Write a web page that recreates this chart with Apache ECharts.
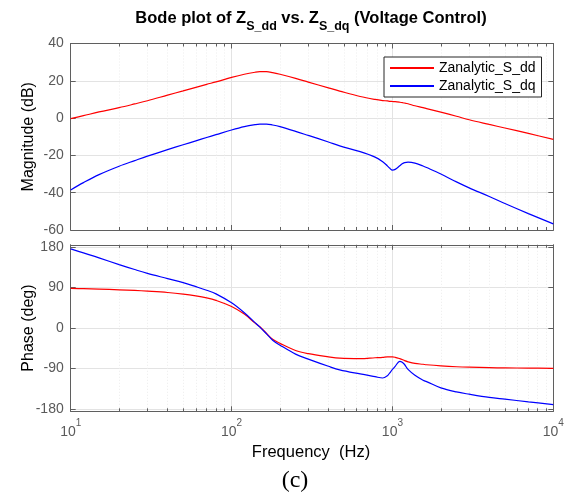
<!DOCTYPE html>
<html>
<head>
<meta charset="utf-8">
<script src="https://cdn.jsdelivr.net/npm/echarts@6/dist/echarts.min.js"></script>
<style>
html,body{margin:0;padding:0;background:#fff;}
#chart{width:570px;height:493px;}
</style>
</head>
<body>
<div id="chart"></div>
<script>
const freq = [10,12,15,20,25,30,40,50,60,70,80,100,120,140,150,165,180,200,250,300,400,470,630,780,870,930,960,1000,1040,1110,1150,1190,1250,1380,1550,1630,2000,2500,3000,4000,5000,7000,10000];
const magDd = [-0.3,1.3,3.3,5.6,7.6,9.3,12.3,14.6,16.5,18.1,19.4,21.8,23.5,24.6,24.9,24.9,24.4,23.5,21.3,19.3,16.2,14.5,11.6,10.0,9.4,9.2,9.0,8.9,8.8,8.5,8.3,8.1,7.7,6.6,5.6,5.1,3.2,1.0,-0.9,-3.4,-5.3,-8.2,-11.4];
const magDq = [-38.5,-34.6,-30.3,-25.8,-22.8,-20.4,-16.9,-14.3,-12.2,-10.4,-8.9,-6.4,-4.6,-3.5,-3.2,-3.2,-3.7,-4.6,-7.1,-9.3,-12.8,-14.9,-18.0,-20.9,-23.4,-25.6,-26.8,-27.9,-27.5,-25.6,-24.5,-23.9,-23.6,-24.1,-25.7,-26.5,-30.0,-34.2,-37.4,-42.0,-45.8,-51.2,-56.7];
const phaseDd = [88,87.4,86.5,85,83.6,82,79,75.5,71.5,67,61.5,48,31,11,3,-12,-25,-34,-50,-57,-64,-67,-68,-66,-65,-64,-64,-64,-65,-68,-70,-72.5,-75,-78.5,-80.5,-81.5,-84,-86,-87,-88,-88.5,-89,-89.5];
const phaseDq = [176,167,156,141,130,121.5,110,101,92,84,76,56,34,12,2,-13,-27,-38,-58,-69,-85,-93,-102,-108,-111,-106,-100,-92,-85,-74,-76,-81,-92,-105,-116,-119,-133,-142,-147,-154,-158,-164,-170];
const seriesNames = ['Zanalytic_S_dd','Zanalytic_S_dq'];
const phaseTicks = [-180,-90,0,90,180];

const pairs = (ys) => freq.map((f, i) => [f, ys[i]]);
const chart = echarts.init(document.getElementById('chart'), null, {renderer: 'canvas'});

const tickColor = '#5a5a5a';
const axisLineColor = '#5f5f5f';
const gridColor = '#e3e3e3';
const minorGridColor = '#ececec';
const FONT = 'Liberation Sans, Arial, sans-serif';

function xAxisDef(gridIndex, pos, showLabels) {
  return {
    type: 'log', logBase: 10, min: 10, max: 10000, gridIndex: gridIndex, position: pos,
    axisLine: {show: true, onZero: false, lineStyle: {color: axisLineColor, width: 1}},
    axisTick: {show: true, inside: true, length: 5, lineStyle: {color: axisLineColor}},
    minorTick: {show: true, splitNumber: 9, length: 3, lineStyle: {color: axisLineColor}},
    splitLine: {show: pos === 'bottom', lineStyle: {color: gridColor, width: 1}},
    minorSplitLine: {show: pos === 'bottom', lineStyle: {color: minorGridColor, type: [1, 2], width: 1}},
    axisLabel: {
      show: showLabels, margin: 7, showMinLabel: true, showMaxLabel: true, hideOverlap: false,
      formatter: function (v) { return '{b|10}{s|' + Math.round(Math.log10(v)) + '}'; },
      rich: {
        b: {fontSize: 14, fontFamily: FONT, color: tickColor, lineHeight: 28},
        s: {fontSize: 10, fontFamily: FONT, color: tickColor, lineHeight: 10, verticalAlign: 'top'}
      }
    }
  };
}
function yAxisDef(gridIndex, pos, opts) {
  const base = {
    type: 'value', gridIndex: gridIndex, position: pos,
    axisLine: {show: true, onZero: false, lineStyle: {color: axisLineColor, width: 1}},
    axisTick: {show: true, inside: true, length: 5, lineStyle: {color: axisLineColor}},
    splitLine: {show: pos === 'left', lineStyle: {color: gridColor, width: 1}},
    axisLabel: {show: pos === 'left', margin: 7, fontSize: 14, fontFamily: FONT, color: tickColor, showMinLabel: true, showMaxLabel: true, hideOverlap: false}
  };
  return Object.assign(base, opts);
}
function lineSeries(name, xi, yi, ys, color) {
  return {name: name, type: 'line', xAxisIndex: xi, yAxisIndex: yi, data: pairs(ys),
    showSymbol: false, symbol: 'none', smooth: 0.35,
    lineStyle: {color: color, width: 1.2}, itemStyle: {color: color}};
}

const option = {
  animation: false,
  backgroundColor: '#ffffff',
  title: [
    {
      text: '{t|Bode plot of Z}{s|S_dd}{t| vs. Z}{s|S_dq}{t| (Voltage Control)}',
      left: 311, top: 3, textAlign: 'center', padding: 0,
      textStyle: {
        rich: {
          t: {fontSize: 16.5, fontWeight: 'bold', fontFamily: FONT, color: '#000', lineHeight: 30},
          s: {fontSize: 12.5, fontWeight: 'bold', fontFamily: FONT, color: '#000', lineHeight: 13, verticalAlign: 'bottom'}
        }
      }
    },
    {
      text: 'Frequency  (Hz)', left: 311, top: 444, textAlign: 'center', padding: 0,
      textStyle: {fontSize: 16.5, fontWeight: 'normal', fontFamily: FONT, color: '#000'}
    },
    {
      text: '(c)', left: 295, top: 469, textAlign: 'center', padding: 0,
      textStyle: {fontSize: 24, fontWeight: 'normal', fontFamily: 'Liberation Serif, Times New Roman, serif', color: '#000'}
    }
  ],
  legend: {
    data: seriesNames, orient: 'vertical', left: 384, top: 57,
    padding: [4, 6, 4, 5], itemWidth: 44, itemHeight: 14, itemGap: 4,
    backgroundColor: '#fff', borderColor: '#262626', borderWidth: 1, borderRadius: 0,
    itemStyle: {opacity: 0},
    textStyle: {fontSize: 14, fontFamily: FONT, color: '#000'}
  },
  grid: [
    {left: 70.7, right: 16.7, top: 43.5, height: 186.5, outerBoundsMode: 'none', containLabel: false},
    {left: 70.7, right: 16.7, top: 244.8, height: 166.5, outerBoundsMode: 'none', containLabel: false}
  ],
  xAxis: [
    xAxisDef(0, 'bottom', false),
    xAxisDef(0, 'top', false),
    xAxisDef(1, 'bottom', true),
    xAxisDef(1, 'top', false)
  ],
  yAxis: [
    yAxisDef(0, 'left', {min: -60, max: 40, interval: 20, name: 'Magnitude (dB)', nameLocation: 'middle', nameGap: 34, nameMoveOverlap: false,
      nameTextStyle: {fontSize: 16, fontFamily: FONT, color: '#000'}}),
    yAxisDef(0, 'right', {min: -60, max: 40, interval: 20}),
    yAxisDef(1, 'left', {min: -185, max: 185, name: 'Phase (deg)', nameLocation: 'middle', nameGap: 34, nameMoveOverlap: false,
      nameTextStyle: {fontSize: 16, fontFamily: FONT, color: '#000'}}),
    yAxisDef(1, 'right', {min: -185, max: 185})
  ],
  series: [
    lineSeries(seriesNames[0], 0, 0, magDd, '#ff0000'),
    lineSeries(seriesNames[1], 0, 0, magDq, '#0000ff'),
    lineSeries(seriesNames[0], 2, 2, phaseDd, '#ff0000'),
    lineSeries(seriesNames[1], 2, 2, phaseDq, '#0000ff')
  ]
};
// phase axes use custom tick values (the box extends slightly beyond +/-180)
option.yAxis[2].axisTick.customValues = phaseTicks;
option.yAxis[2].axisLabel.customValues = phaseTicks;
option.yAxis[3].axisTick.customValues = phaseTicks;
option.yAxis[3].axisLabel.customValues = phaseTicks;
chart.setOption(option);
</script>
</body>
</html>
